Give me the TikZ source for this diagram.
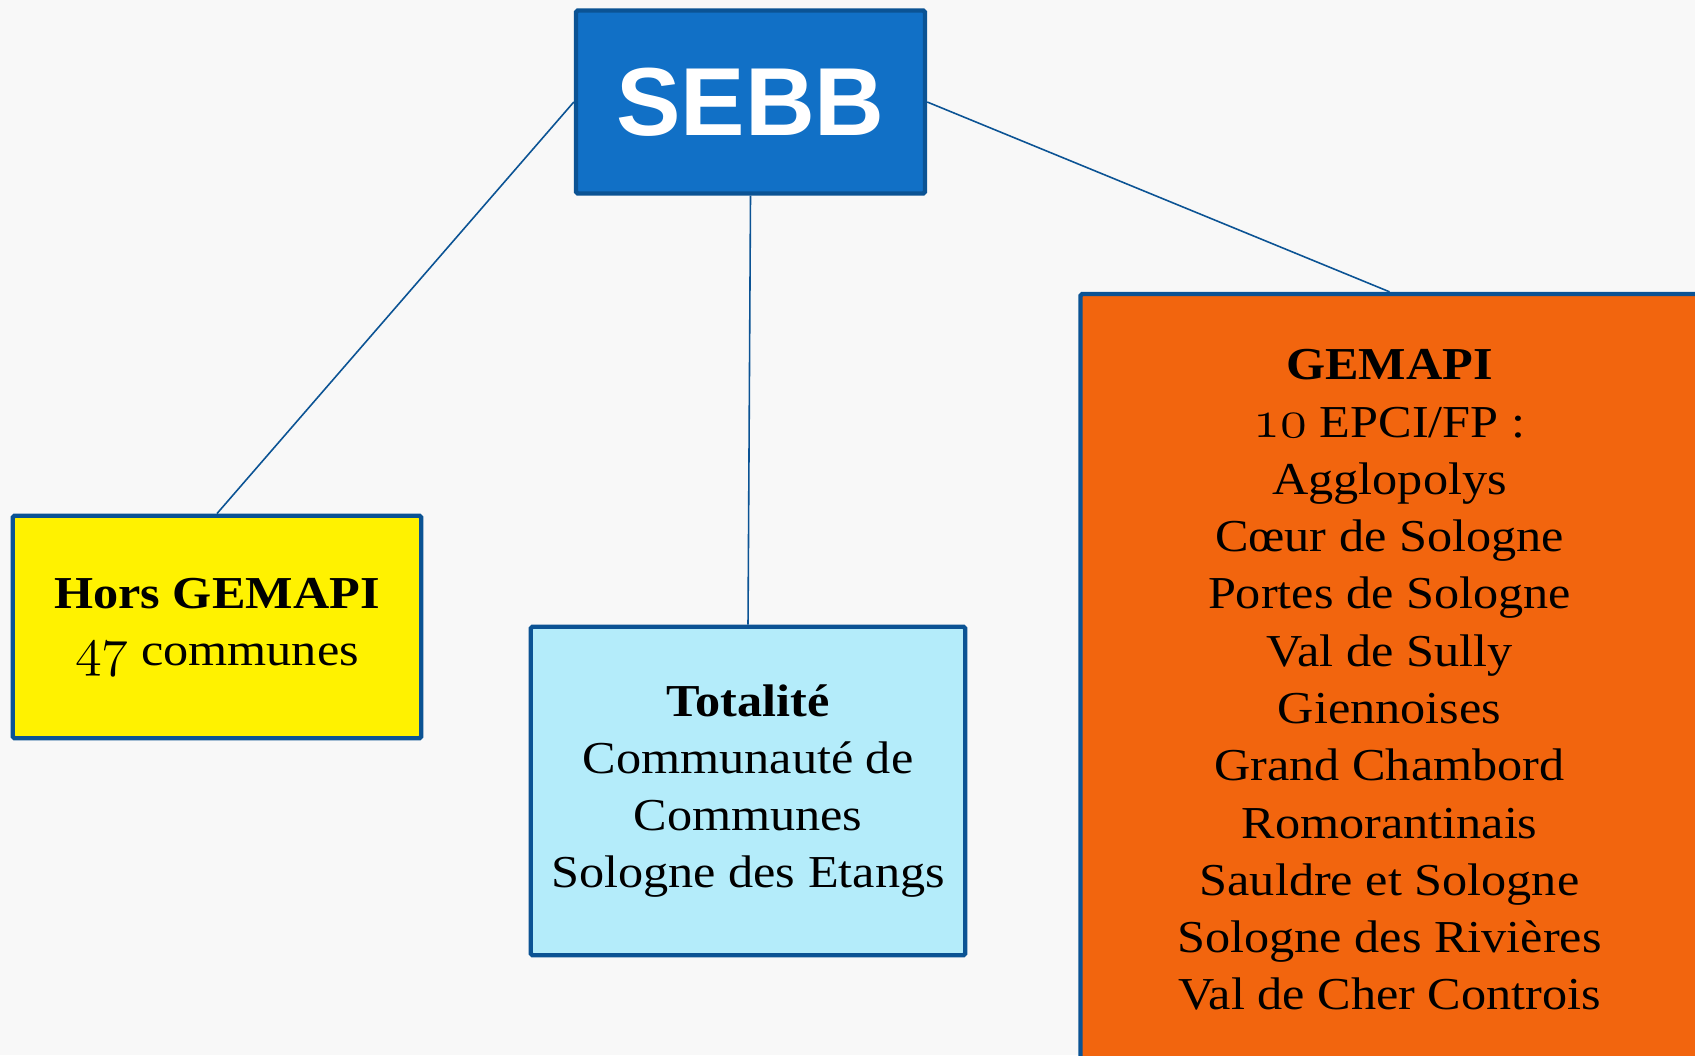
\documentclass[tikz,border=0pt]{standalone}
\usepackage{fontspec}
\setmainfont[FakeStretch=1.1]{Liberation Serif}
\newfontfamily\sebbfont{Liberation Sans}
\newcommand\osnum[1]{\scalebox{1.25}{\usefont{OML}{cmm}{m}{it}#1}}
\definecolor{sebbblue}{RGB}{17,112,198}
\definecolor{rim}{RGB}{11,83,148}
\definecolor{paleblue}{RGB}{180,236,250}
\definecolor{gemorange}{RGB}{242,101,14}
\definecolor{bg}{RGB}{248,248,248}
\tikzset{
    box/.style={draw=rim, line width=2.5pt, rounded corners=1pt, align=center, inner sep=0pt, font=\fontsize{26}{32.6}\selectfont},
    link/.style={draw=rim, line width=0.9pt}
}

\begin{document}
\begin{tikzpicture}
    \useasboundingbox (0,0) rectangle (33.9,-21.1);
    \fill[bg] (0,0) rectangle (33.9,-21.1);
    \clip (0,0) rectangle (33.9,-21.1);

    \node[box, fill=sebbblue, text=white, minimum width=6.98cm, minimum height=3.66cm, font={\sebbfont\bfseries\fontsize{55}{60}\selectfont}] (sebb) at (15.01,-2.04) {SEBB};

    \node[box, fill=yellow, minimum width=8.17cm, minimum height=4.45cm] (hors) at (4.34,-12.54) {\textbf{Hors GEMAPI}\\\osnum{47} communes};
    \node[box, fill=paleblue, minimum width=8.69cm, minimum height=6.57cm] (tot) at (14.96,-15.82) {\textbf{Totalité}\\Communauté de\\Communes\\Sologne des Etangs};
    \node[box, fill=gemorange, minimum width=12.36cm, minimum height=15.44cm] (gem) at (27.79,-13.6) {\textbf{GEMAPI}\\\osnum{10} EPCI/FP :\\Agglopolys\\Cœur de Sologne\\Portes de Sologne\\Val de Sully\\Giennoises\\Grand Chambord\\Romorantinais\\Sauldre et Sologne\\Sologne des Rivières\\Val de Cher Controis};

    \draw[link] (sebb.west) -- (hors.north);
    \draw[link] (sebb.south) -- (tot.north);
    \draw[link] (sebb.east) -- (gem.north);
\end{tikzpicture}
\end{document}
